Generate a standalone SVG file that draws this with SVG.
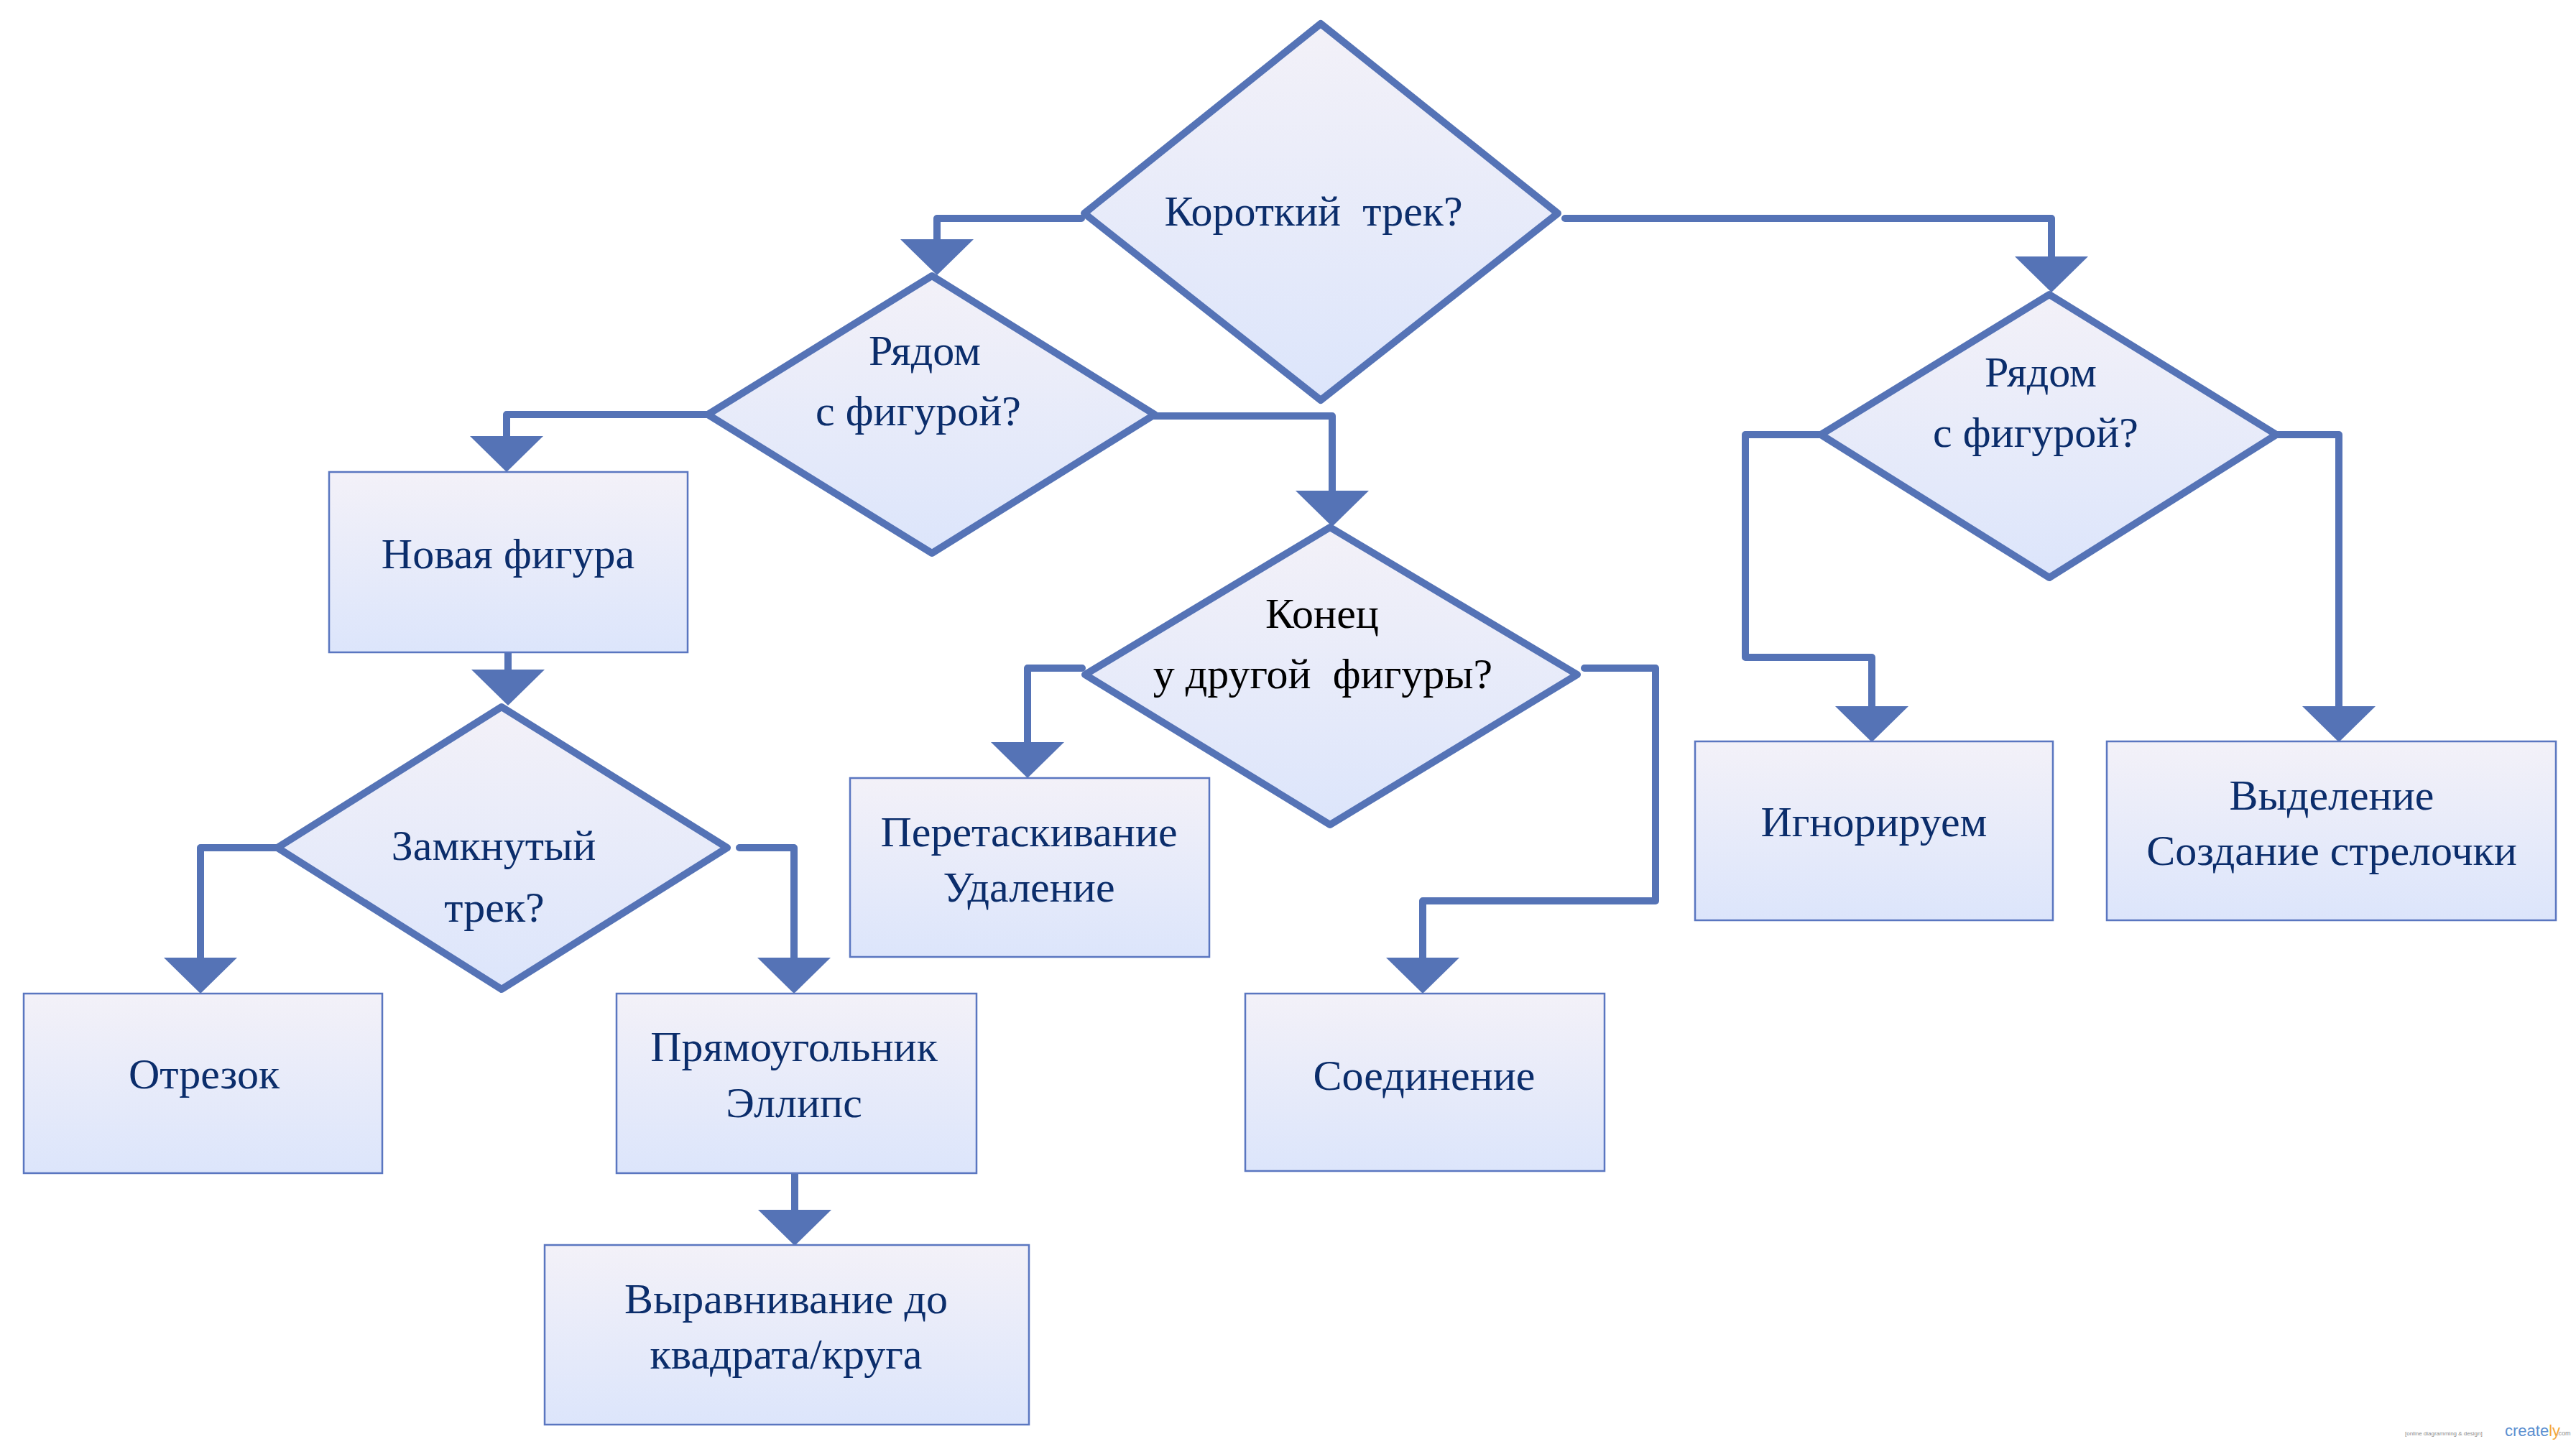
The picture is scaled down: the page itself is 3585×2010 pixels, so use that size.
<svg xmlns="http://www.w3.org/2000/svg" width="3585" height="2010" viewBox="0 0 3585 2010">
<defs>
<linearGradient id="fillG" x1="0" y1="0" x2="0" y2="1">
<stop offset="0" stop-color="#f3f1f8"/>
<stop offset="1" stop-color="#dce5fb"/>
</linearGradient>
<marker id="arr" markerUnits="userSpaceOnUse" markerWidth="60" markerHeight="110" refX="0" refY="0" viewBox="0 -55 60 110" orient="auto" overflow="visible">
<path d="M0,-51 L50,0 L0,51 Z" fill="#5573b6"/>
</marker>
<style>
.dia{fill:url(#fillG);stroke:#5573b6;stroke-width:10;stroke-linejoin:round}
.box{fill:url(#fillG);stroke:#5a76c0;stroke-width:2.5}
.con{fill:none;stroke:#5573b6;stroke-width:10;stroke-linejoin:round;stroke-linecap:round;marker-end:url(#arr)}
.t{font-family:"Liberation Serif","Times New Roman",serif;font-size:60px;fill:#0b2d6b;text-anchor:middle}
.tb{fill:#000000}
</style>
</defs>
<rect width="3585" height="2010" fill="#ffffff"/>
<g id="connectors">
<path class="con" d="M1505,304 H1304 V333"/>
<path class="con" d="M2178,304 H2855 V357"/>
<path class="con" d="M985,577 H705 V607"/>
<path class="con" d="M1606,579 H1854 V683"/>
<path class="con" d="M707,903 V932"/>
<path class="con" d="M384,1180 H279 V1333"/>
<path class="con" d="M1029,1180 H1105 V1333"/>
<path class="con" d="M1106,1628 V1684"/>
<path class="con" d="M1506,930 H1430 V1033"/>
<path class="con" d="M2205,930 H2304 V1254 H1980 V1333"/>
<path class="con" d="M2534,605 H2429 V915 H2605 V983"/>
<path class="con" d="M3168,605 H3255 V983"/>
</g>
<g id="d-short-track">
<polygon class="dia" points="1838,33 2168,297 1838,557 1509,297"/>
<text class="t" x="1828" y="314" xml:space="preserve">Короткий  трек?</text>
</g>
<g id="d-near-figure-1">
<polygon class="dia" points="1297,384 1607,577 1297,770 985,577"/>
<text class="t" x="1287" y="508">Рядом</text>
<text class="t" x="1278" y="592">с фигурой?</text>
</g>
<g id="n-new-figure">
<rect class="box" x="458" y="657" width="499" height="251"/>
<text class="t" x="707" y="791">Новая фигура</text>
</g>
<g id="d-closed-track">
<polygon class="dia" points="698,984 1012,1180 698,1377 386,1180"/>
<text class="t" x="687" y="1197">Замкнутый</text>
<text class="t" x="688" y="1283">трек?</text>
</g>
<g id="n-segment">
<rect class="box" x="33" y="1383" width="499" height="250"/>
<text class="t" x="284" y="1515">Отрезок</text>
</g>
<g id="n-rect-ellipse">
<rect class="box" x="858" y="1383" width="501" height="250"/>
<text class="t" x="1105" y="1477">Прямоугольник</text>
<text class="t" x="1105" y="1555">Эллипс</text>
</g>
<g id="n-align">
<rect class="box" x="758" y="1733" width="674" height="250"/>
<text class="t" x="1094" y="1828">Выравнивание до</text>
<text class="t" x="1094" y="1905">квадрата/круга</text>
</g>
<g id="d-end-other">
<polygon class="dia" points="1851,734 2195,939 1851,1148 1510,939"/>
<text class="t tb" x="1840" y="874">Конец</text>
<text class="t tb" x="1841" y="958" xml:space="preserve">у другой  фигуры?</text>
</g>
<g id="n-drag-delete">
<rect class="box" x="1183" y="1083" width="500" height="249"/>
<text class="t" x="1432" y="1178">Перетаскивание</text>
<text class="t" x="1432" y="1255">Удаление</text>
</g>
<g id="n-connect">
<rect class="box" x="1733" y="1383" width="500" height="247"/>
<text class="t" x="1982" y="1517">Соединение</text>
</g>
<g id="d-near-figure-2">
<polygon class="dia" points="2852,410 3168,605 2852,804 2534,605"/>
<text class="t" x="2840" y="538">Рядом</text>
<text class="t" x="2833" y="622">с фигурой?</text>
</g>
<g id="n-ignore">
<rect class="box" x="2359" y="1032" width="498" height="249"/>
<text class="t" x="2608" y="1164">Игнорируем</text>
</g>
<g id="n-select">
<rect class="box" x="2932" y="1032" width="625" height="249"/>
<text class="t" x="3245" y="1127">Выделение</text>
<text class="t" x="3245" y="1204">Создание стрелочки</text>
</g>
<g id="watermark" font-family="'Liberation Sans',Arial,sans-serif">
<text x="3347" y="1998" font-size="8" fill="#8a8a8a">[online diagramming &amp; design]</text>
<text x="3486" y="1999" font-size="22" fill="#5b8fd0">create<tspan fill="#f3a73b">ly</tspan></text>
<text x="3558" y="1998" font-size="9" fill="#8a8a8a">.com</text>
</g>
</svg>
